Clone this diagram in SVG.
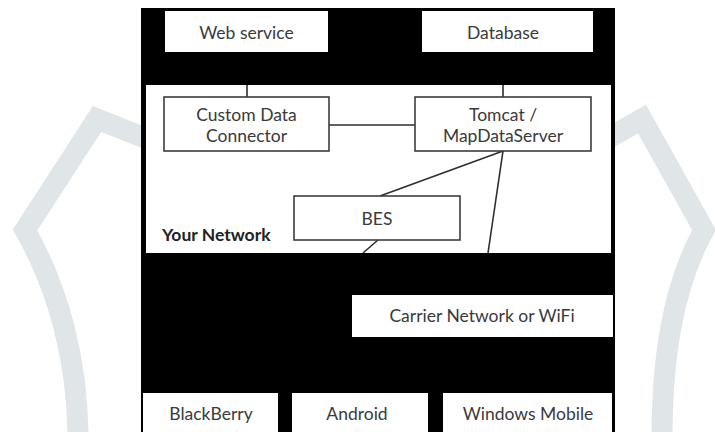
<svg xmlns="http://www.w3.org/2000/svg" width="715" height="432" viewBox="0 0 715 432">
  <style>
    .wm { fill: none; stroke: #e0e5e8; stroke-width: 21; stroke-linejoin: miter; }
    .plain { fill: #ffffff; stroke: none; }
    .boxed { fill: #ffffff; stroke: #3c3c3c; stroke-width: 1.6; }
    .lbl { font-family: Lato, "Open Sans", "Liberation Sans", sans-serif; font-size: 17.5px; fill: #3a3a3a; text-anchor: middle; }
    .bold { font-family: Lato, "Open Sans", "Liberation Sans", sans-serif; font-size: 17.5px; font-weight: bold; fill: #222222; }
    .conn { stroke: #2e2e2e; stroke-width: 1.6; fill: none; }
  </style>
  <rect width="715" height="432" fill="#ffffff"/>
  <!-- watermark background shapes -->
  <path class="wm" d="M150,140 L97,119 L25,230 C58,288 78,360 78,440"/>
  <path class="wm" d="M605,140 L642,119 L704,230 C672,288 662,360 662,440"/>
  <!-- black panel -->
  <rect x="141" y="8" width="474" height="424" fill="#000000"/>
  <g id="your-network">
    <rect class="plain" x="146" y="85" width="465" height="168"/>
    <text class="bold" x="162" y="241">Your Network</text>
  </g>
  <g id="connectors">
    <line class="conn" x1="247" y1="85" x2="247" y2="97"/>
    <line class="conn" x1="503" y1="85" x2="503" y2="97"/>
    <line class="conn" x1="329" y1="125" x2="415" y2="125"/>
    <line class="conn" x1="503" y1="151" x2="380" y2="196"/>
    <line class="conn" x1="503" y1="151" x2="488" y2="253"/>
    <line class="conn" x1="378" y1="240" x2="363" y2="253"/>
  </g>
  <g id="web-service">
    <rect class="plain" x="165" y="11" width="163" height="41"/>
    <text class="lbl" x="246.5" y="39">Web service</text>
  </g>
  <g id="database">
    <rect class="plain" x="422" y="11" width="171" height="41"/>
    <text class="lbl" x="503" y="39">Database</text>
  </g>
  <g id="custom-data-connector">
    <rect class="boxed" x="164" y="97" width="165" height="54"/>
    <text class="lbl" x="246.5" y="121">Custom Data</text>
    <text class="lbl" x="246.5" y="142">Connector</text>
  </g>
  <g id="tomcat">
    <rect class="boxed" x="415" y="97" width="176" height="54"/>
    <text class="lbl" x="503" y="121">Tomcat /</text>
    <text class="lbl" x="503" y="142">MapDataServer</text>
  </g>
  <g id="bes">
    <rect class="boxed" x="294" y="196" width="166" height="44"/>
    <text class="lbl" x="377" y="225">BES</text>
  </g>
  <g id="carrier">
    <rect class="plain" x="352" y="295" width="261" height="42"/>
    <text class="lbl" x="482" y="322">Carrier Network or WiFi</text>
  </g>
  <g id="blackberry">
    <rect class="plain" x="143" y="393" width="135" height="39"/>
    <text class="lbl" x="211" y="420">BlackBerry</text>
  </g>
  <g id="android">
    <rect class="plain" x="292" y="393" width="136" height="39"/>
    <text class="lbl" x="357" y="420">Android</text>
  </g>
  <g id="windows-mobile">
    <rect class="plain" x="443" y="393" width="169" height="39"/>
    <text class="lbl" x="528" y="420">Windows Mobile</text>
  </g>
</svg>
